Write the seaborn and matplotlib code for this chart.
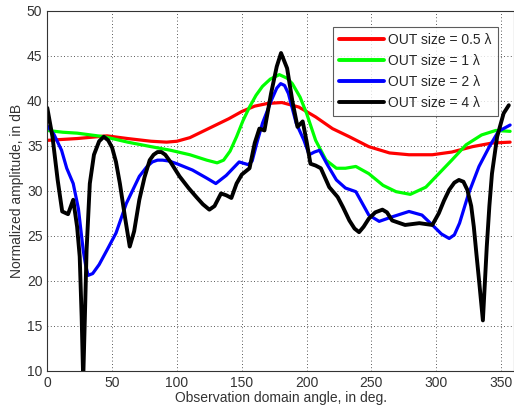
import numpy as np
import pandas as pd
import matplotlib
matplotlib.use("Agg")
import matplotlib.pyplot as plt
import seaborn as sns

labels = ["OUT size = 0.5 \u03bb", "OUT size = 1 \u03bb", "OUT size = 2 \u03bb", "OUT size = 4 \u03bb"]
colors = ["#ff0000", "#00ff00", "#0000ff", "#000000"]

red_x = [0, 23, 46, 62, 80, 92, 100, 110, 120, 130, 140, 150, 160, 170, 181, 194, 207, 220, 233, 248, 264, 279, 297, 312, 328, 343, 357]
red_y = [35.6, 35.8, 36.1, 35.8, 35.5, 35.4, 35.5, 35.9, 36.6, 37.3, 38.0, 38.8, 39.4, 39.7, 39.8, 39.3, 38.2, 36.9, 36.0, 34.9, 34.2, 34.0, 34.0, 34.3, 34.9, 35.3, 35.4]

green_x = [0, 12, 23, 44, 62, 80, 95, 110, 123, 131, 136, 141, 146, 151, 156, 161, 166, 172, 179, 185, 189, 195, 200, 207, 215, 223, 230, 238, 248, 259, 269, 280, 292, 302, 312, 323, 335, 346, 357]
green_y = [36.7, 36.5, 36.4, 36.0, 35.4, 34.9, 34.5, 34.0, 33.4, 33.1, 33.4, 34.4, 36.0, 37.8, 39.3, 40.6, 41.6, 42.4, 42.9, 42.5, 41.9, 40.4, 38.6, 35.6, 33.4, 32.5, 32.5, 32.7, 31.9, 30.6, 29.9, 29.6, 30.4, 31.9, 33.4, 35.1, 36.2, 36.7, 36.6]

blue_x = [0, 5, 11, 15, 20, 24, 27.7, 29.5, 31.5, 35, 40, 46, 53, 61, 71, 77, 81, 85, 89, 94, 100, 112, 123, 130, 138, 148, 155, 158, 162, 166, 173, 177, 180, 183, 186, 192, 198, 202, 206, 210, 216, 223, 230, 238, 248, 256, 266, 279, 289, 297, 304, 310, 314, 318, 325, 333, 341, 348, 357]
blue_y = [37.2, 36.3, 34.5, 32.5, 30.8, 28.0, 23.4, 21.8, 20.6, 20.8, 21.8, 23.4, 25.3, 28.6, 31.6, 32.7, 33.2, 33.4, 33.4, 33.3, 33.0, 32.3, 31.4, 30.8, 31.7, 33.2, 32.9, 33.3, 35.5, 37.5, 40.1, 41.4, 41.9, 41.7, 40.8, 37.5, 35.6, 34.0, 34.3, 34.5, 32.9, 31.2, 30.3, 29.9, 27.3, 26.6, 27.1, 27.7, 27.3, 26.2, 25.2, 24.7, 25.1, 26.4, 29.7, 32.7, 34.9, 36.6, 37.3]

black_x = [0, 4, 8, 11.5, 16, 20, 23, 25, 26.5, 27.7, 29, 30.3, 32.8, 36, 40, 43.6, 47, 50, 53, 56, 60, 63.6, 67, 71, 75, 79, 82, 85, 88, 91, 95, 102, 109, 115, 120, 125, 129, 134, 138, 142, 146, 150, 156, 160, 163.6, 167.5, 172.6, 177, 180.3, 185, 189, 193, 197, 200, 203, 207, 211, 217.5, 224, 228, 233, 237, 240.5, 244, 248, 253, 258.5, 262, 266, 276, 287, 297, 302, 306, 310, 314, 317.5, 321, 324, 327, 329, 331, 333, 336, 339, 341, 343, 347, 352, 356]
black_y = [39.2, 36.0, 31.2, 27.7, 27.4, 29.0, 26.0, 22.7, 16.0, 9.0, 16.0, 23.4, 30.8, 34.0, 35.5, 36.0, 35.6, 34.8, 33.2, 30.8, 27.0, 23.8, 25.5, 29.0, 31.5, 33.4, 34.0, 34.3, 34.3, 34.0, 33.2, 31.6, 30.3, 29.3, 28.5, 27.9, 28.3, 29.7, 29.5, 29.2, 30.8, 31.8, 32.5, 35.3, 36.9, 36.7, 40.8, 43.8, 45.3, 43.6, 40.0, 37.1, 37.7, 35.5, 33.0, 32.8, 32.5, 30.4, 29.3, 28.2, 26.7, 25.8, 25.4, 26.0, 26.9, 27.6, 27.9, 27.6, 26.7, 26.2, 26.4, 26.2, 27.5, 28.9, 30.1, 30.9, 31.2, 31.0, 30.1, 28.3, 26.0, 23.0, 20.1, 15.6, 23.8, 28.3, 31.9, 36.0, 38.6, 39.5]

xticks = [0, 50, 100, 150, 200, 250, 300, 350]
yticks = [10, 15, 20, 25, 30, 35, 40, 45, 50]

frames = []
for lab, xs, ys in zip(labels, [red_x, green_x, blue_x, black_x], [red_y, green_y, blue_y, black_y]):
    frames.append(pd.DataFrame({"angle": xs, "amp": ys, "series": lab}))
df = pd.concat(frames, ignore_index=True)

sns.set_style("white")
plt.rcParams["font.family"] = ["Liberation Sans", "DejaVu Sans"]
plt.rcParams["lines.solid_joinstyle"] = "round"
plt.rcParams["lines.solid_capstyle"] = "round"

fig = plt.figure(figsize=(5.14, 4.12), dpi=100)
ax = fig.add_axes([0.092, 0.1, 0.908, 0.874])

sns.lineplot(data=df, x="angle", y="amp", hue="series", hue_order=labels,
             palette=dict(zip(labels, colors)), sort=False, estimator=None,
             units="series", linewidth=2.3, ax=ax, legend=True)
ax.lines[3].set_linewidth(2.8)

ax.set_xlim(0, 360)
ax.set_ylim(10, 50)
ax.set_xticks(xticks)
ax.set_yticks(yticks)
ax.grid(True, linestyle=(0, (1, 3)), color="#222222", linewidth=0.6)
for s in ax.spines.values():
    s.set_color("#333333")
    s.set_linewidth(0.8)
ax.tick_params(direction="in", length=4, labelsize=10, colors="#333333", labelcolor="#333333")
ax.set_xlabel("Observation domain angle, in deg.", fontsize=10, color="#333333", labelpad=1)
ax.set_ylabel("Normalized amplitude, in dB", fontsize=10, color="#333333", labelpad=2)

leg = ax.legend(loc="upper left", bbox_to_anchor=(0.612, 0.955), frameon=True, fancybox=False,
                fontsize=10, handlelength=3.2, handletextpad=0.3, borderpad=0.45, labelspacing=0.5,
                borderaxespad=0)
leg.get_frame().set_edgecolor("#333333")
leg.get_frame().set_linewidth(0.8)
for h in leg.get_lines():
    h.set_linewidth(2.8)

fig.savefig("out.png", dpi=100)
